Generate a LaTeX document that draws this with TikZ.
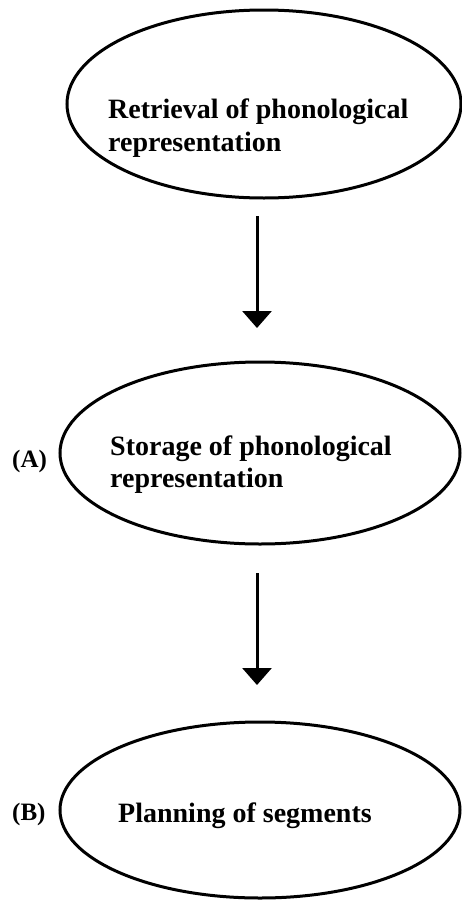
\documentclass[tikz,border=0pt]{standalone}
\usepackage{fontspec}
\setmainfont{Liberation Serif}
\usetikzlibrary{arrows.meta,shapes.geometric}
\begin{document}
\begin{tikzpicture}[x=1pt,y=-1pt,
  stage/.style={draw=black,line width=3pt,ellipse,inner sep=0pt},
  stagetext/.style={anchor=base west,align=left,inner sep=0pt,
    font=\fontsize{28}{31}\selectfont\bfseries},
  tag/.style={anchor=base west,inner sep=0pt,font=\fontsize{25}{28}\selectfont\bfseries},
  flow/.style={line width=3pt,-{Triangle[width=29pt,length=17pt]}}]
\useasboundingbox (0,0) rectangle (462,900);

% three process stages
\node[stage,minimum width=394pt,minimum height=188pt] (e1) at (264,104) {};
\node[stage,minimum width=400pt,minimum height=182pt] (e2) at (260,453) {};
\node[stage,minimum width=400pt,minimum height=176pt] (e3) at (260,810) {};

% stage captions
\node[stagetext] (t1a) at (108,118) {Retrieval of phonological};
\node[stagetext] (t1b) at (108,151) {representation};
\node[stagetext] (t2a) at (110,455) {Storage of phonological};
\node[stagetext] (t2b) at (110,487) {representation};
\node[stagetext] (t3) at (118,822) {Planning of segments};

% side tags
\node[tag] (la) at (12,467) {(A)};
\node[tag] (lb) at (12,820) {(B)};

% arrows between stages
\coordinate (a1s) at (257,216);
\coordinate (a1e) at (257,328);
\coordinate (a2s) at (257,573);
\coordinate (a2e) at (257,685);
\draw[flow] (a1s) -- (a1e);
\draw[flow] (a2s) -- (a2e);
\end{tikzpicture}
\end{document}
